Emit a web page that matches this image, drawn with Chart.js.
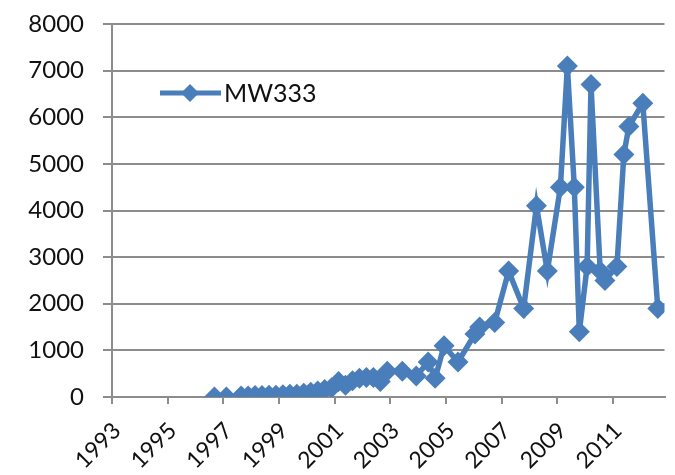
<!DOCTYPE html>
<html>
<head>
<meta charset="utf-8">
<script src="https://cdn.jsdelivr.net/npm/chart.js@4"></script>
<style>
  html, body { margin: 0; padding: 0; background: #fff; }
  #wrap { width: 675px; height: 475px; }
</style>
</head>
<body>
<div id="wrap"><canvas id="lineChart"></canvas></div>
<script>
// data (decimal year, value)
const dates = [1996.68, 1997.11, 1997.64, 1997.89, 1998.14, 1998.39, 1998.64, 1998.89,
  1999.14, 1999.39, 1999.64, 1999.89, 2000.14, 2000.39, 2000.64, 2000.89,
  2001.14, 2001.39, 2001.64, 2001.89, 2002.14, 2002.39, 2002.64, 2002.89,
  2003.43, 2003.93, 2004.36, 2004.61, 2004.93, 2005.43, 2006.04, 2006.21,
  2006.75, 2007.25, 2007.79, 2008.25, 2008.64, 2009.11, 2009.36, 2009.61,
  2009.79, 2010.07, 2010.21, 2010.54, 2010.71, 2011.14, 2011.39, 2011.57,
  2012.07, 2012.61];
const mw333 = [0, 0, 20, 20, 30, 30, 40, 40,
  50, 60, 60, 80, 100, 130, 160, 200,
  330, 250, 350, 400, 420, 420, 330, 550,
  550, 450, 750, 400, 1100, 750, 1350, 1500,
  1600, 2700, 1900, 4100, 2700, 4500, 7100, 4500,
  1400, 2800, 6700, 2700, 2500, 2800, 5200, 5800,
  6300, 1900];
const yearTicks = [1993, 1995, 1997, 1999, 2001, 2003, 2005, 2007, 2009, 2011];
const seriesName = 'MW333';

const blue = '#4a7ebb';
const gridGray = '#8c8c8c';
const fontFamily = 'Lato, "Open Sans", sans-serif';

// legend drawn inside the plot, like the original
const insideLegend = {
    id: 'insideLegend',
    afterDraw(chart) {
        const ctx = chart.ctx;
        const y = 93;
        ctx.save();
        ctx.strokeStyle = blue;
        ctx.lineWidth = 5;
        ctx.beginPath();
        ctx.moveTo(160, y);
        ctx.lineTo(221, y);
        ctx.stroke();
        ctx.fillStyle = blue;
        ctx.beginPath();
        ctx.moveTo(190, y - 9);
        ctx.lineTo(199, y);
        ctx.lineTo(190, y + 9);
        ctx.lineTo(181, y);
        ctx.closePath();
        ctx.fill();
        ctx.fillStyle = '#111';
        ctx.font = '25px ' + fontFamily;
        ctx.textBaseline = 'middle';
        ctx.fillText(seriesName, 224, y + 1);
        ctx.restore();
    }
};

const ctx = document.getElementById('lineChart').getContext('2d');
const chart = new Chart(ctx, {
    type: 'line',
    data: {
        datasets: [{
            label: seriesName,
            data: dates.map((d, i) => ({ x: d, y: mw333[i] })),
            borderColor: blue,
            backgroundColor: blue,
            borderWidth: 5.5,
            pointStyle: 'rectRot',
            pointRadius: 10.5,
            pointBorderWidth: 0,
            tension: 0
        }]
    },
    options: {
        responsive: true,
        maintainAspectRatio: false,
        animation: false,
        layout: { padding: { left: 0, right: 7, top: 24, bottom: 0 } },
        plugins: {
            legend: { display: false },
            tooltip: { enabled: false }
        },
        scales: {
            x: {
                type: 'linear',
                min: 1993,
                max: 2012.85,
                afterBuildTicks: function(scale) {
                    scale.ticks = yearTicks.map(v => ({ value: v }));
                },
                afterFit: function(scale) {
                    scale.height = 78;
                    scale.paddingTop = 0;
                    scale.paddingRight = 0;
                },
                grid: {
                    drawOnChartArea: false,
                    drawTicks: true,
                    tickLength: 7,
                    color: gridGray,
                    lineWidth: 2
                },
                border: { color: gridGray, width: 2 },
                ticks: {
                    minRotation: 45,
                    maxRotation: 45,
                    padding: 13,
                    labelOffset: 5,
                    color: '#111',
                    font: { family: fontFamily, size: 23 },
                    callback: v => String(v)
                }
            },
            y: {
                min: 0,
                max: 8000,
                afterFit: function(scale) {
                    scale.width = 112;
                    scale.paddingTop = 0;
                },
                grid: {
                    color: gridGray,
                    lineWidth: 2,
                    tickLength: 9
                },
                border: { color: gridGray, width: 2 },
                ticks: {
                    stepSize: 1000,
                    padding: 19,
                    color: '#111',
                    font: { family: fontFamily, size: 24 },
                    callback: v => String(v)
                }
            }
        }
    },
    plugins: [insideLegend]
});
</script>
</body>
</html>
